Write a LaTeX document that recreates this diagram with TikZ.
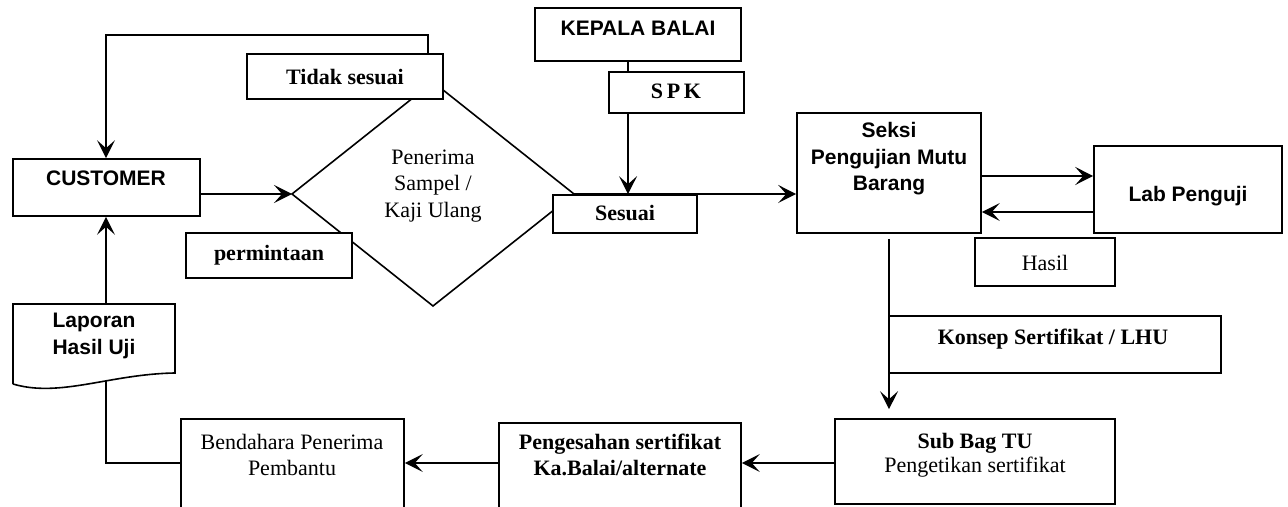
\documentclass[tikz,border=0pt]{standalone}
\usepackage{fontspec}
\setmainfont{Liberation Serif}
\setsansfont{Liberation Sans}
\usetikzlibrary{arrows.meta,fit}
\tikzset{
 box/.style={draw, line width=0.8pt, inner sep=0pt, fill=white},
 ghost/.style={inner sep=0pt},
 arr/.style={-{Stealth[length=9pt,width=9pt,inset=4pt]}, line width=0.8pt},
 ln/.style={line width=0.8pt},
 sfb/.style={font=\sffamily\bfseries\fontsize{10.5}{13.3}\selectfont, align=center, inner sep=0pt},
 rmb/.style={font=\bfseries\fontsize{11}{13.3}\selectfont, align=center, inner sep=0pt},
 rmr/.style={font=\fontsize{11}{13.3}\selectfont, align=center, inner sep=0pt},
}
\begin{document}
\begin{tikzpicture}[x=0.5pt,y=-0.5pt]
\useasboundingbox (0,0) rectangle (1288,507);
\clip (0,0) rectangle (1288,507);
% diamond
\coordinate (dW) at (292,194);
\coordinate (dN) at (433,82);
\coordinate (dE) at (574,194);
\coordinate (dS) at (433,306);
\draw[ln] (dW) -- (dN) -- (dE) -- (dS) -- cycle;
\node[rmr] (dtext) at (433,186) {Penerima\\Sampel /\\Kaji Ulang};
% boxes
\node[box, fit={(13,159) (200,216)}] (cust) {};
\node[box, fit={(247,54) (443,99)}] (tidak) {};
\node[box, fit={(186,233) (352,278)}] (perm) {};
\node[box, fit={(535,8) (741,61)}] (kepala) {};
\node[box, fit={(609,72) (744,113)}] (spk) {};
\node[box, fit={(553,195) (697,233)}] (sesuai) {};
\node[box, fit={(797,113) (981,233)}] (seksi) {};
\node[box, fit={(1094,146) (1282,233)}] (lab) {};
\node[box, fit={(975,238) (1115,286)}] (hasil) {};
\node[box, fit={(889,316) (1221,373)}] (konsep) {};
\node[box, fit={(835,419) (1115,504)}] (subbag) {};
\node[box, fit={(499,423) (741,512)}] (peng) {};
\node[box, fit={(181,419) (404,512)}] (bend) {};
\node[ghost, fit={(13,304) (175,384)}] (lap) {};
\draw[ln, fill=white] (13,384) -- (13,304) -- (175,304) -- (175,373)
  .. controls (110,374) and (60,398) .. (13,384);
% texts
\node[sfb] (tcust) at (106,178) {CUSTOMER};
\node[rmb] (ttidak) at (345,77) {Tidak sesuai};
\node[rmb] (tperm) at (269,255) {permintaan};
\node[sfb] (tkepala) at (638,28) {KEPALA BALAI};
\node[rmb] (tspk) at (676,91) {S\,P\,K};
\node[rmb] (tsesuai) at (625,213) {Sesuai};
\node[sfb] (tseksi) at (889,159) {Seksi\\Pengujian Mutu\\Barang};
\node[sfb] (tlab) at (1188,196) {Lab Penguji};
\node[rmr] (thasil) at (1045,263) {Hasil};
\node[rmb] (tkonsep) at (1053,339) {Konsep Sertifikat / LHU};
\node[align=center, inner sep=0pt] (tsub) at (975,455)
  {{\bfseries\fontsize{11}{13.3}\selectfont Sub Bag TU}\\{\fontsize{11}{13.3}\selectfont Pengetikan sertifikat}};
\node[rmb] (tpeng) at (620,455) {Pengesahan sertifikat\\Ka.Balai/alternate};
\node[rmr] (tbend) at (292,455) {Bendahara Penerima\\Pembantu};
\node[sfb] (tlap) at (94,336) {Laporan\\Hasil Uji};
% connectors
\coordinate (tl) at (106,35);
\coordinate (tr) at (428,35);
\coordinate (kx) at (628,0);
\coordinate (y1) at (0,176);
\coordinate (y2) at (0,212);
\coordinate (y3) at (0,463);
\coordinate (lapb) at (106,381);
\draw[arr] (cust.east |- dW) -- (dW);
\draw[arr] (tidak.north -| tr) -- (tr) -- (tl) -- (cust.north -| tl);
\draw[ln] (kepala.south -| kx) -- (spk.north -| kx);
\draw[arr] (spk.south -| kx) -- (sesuai.north -| kx);
\draw[arr] (dE) -- (seksi.west |- dE);
\draw[arr] (seksi.east |- y1) -- (lab.west |- y1);
\draw[arr] (lab.west |- y2) -- (seksi.east |- y2);
\draw[arr, shorten >=4.5pt] ([yshift=-2.5pt]seksi.south) -- (subbag.north -| seksi.south);
\draw[arr] (subbag.west |- y3) -- (peng.east |- y3);
\draw[arr] (peng.west |- y3) -- (bend.east |- y3);
\draw[ln] (bend.west |- y3) -- (tl |- y3) -- (lapb);
\draw[arr] (lap.north -| tl) -- (cust.south -| tl);
\end{tikzpicture}
\end{document}
